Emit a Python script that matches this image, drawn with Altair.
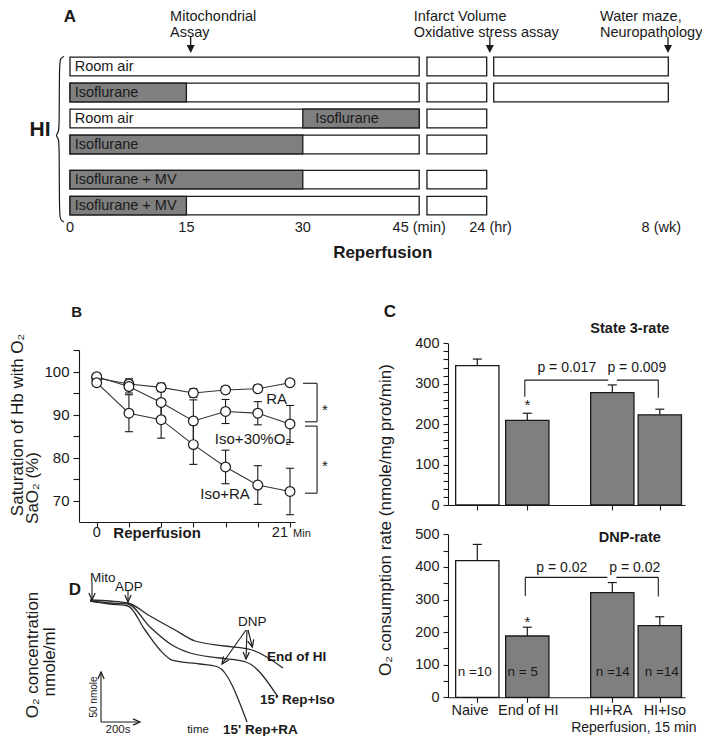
import math
import altair as alt
import pandas as pd

FONT = "Liberation Sans"
INK = "#1a1a1a"
GREY = "#7f7f7f"

# ---------------- Panel A : protocol timeline ----------------
a_rows = [1, 2, 3, 4, 5.35, 6.35]
a_row_labels = ["Room air", "Isoflurane", "Room air", "Isoflurane", "Isoflurane + MV", "Isoflurane + MV"]
a_reperfusion_min = [0, 45]
a_iso_start = [None, 0, 30, 0, 0, 0]
a_iso_end = [None, 15, 45, 30, 30, 15]
a_box_24hr = [46.0, 53.7]
a_box_8wk = [54.6, 77.1]
a_rows_8wk = [1, 2]
a_tick_pos = [0, 15, 30, 45, 54.2, 76.2]
a_tick_labels = ["0", "15", "30", "45 (min)", "24 (hr)", "8 (wk)"]
a_event_x = [15.55, 54.1, 77.06]
a_event_text_x = [12.9, 44.3, 68.3]
a_event_line1 = ["Mitochondrial", "Infarct Volume", "Water maze,"]
a_event_line2 = ["Assay", "Oxidative stress assay", "Neuropathology"]
a_brace_x = [-0.77, -1.22, -1.38, -1.38, -1.48, -1.87, -1.48, -1.38, -1.38, -1.22, -0.77]
a_brace_r = [0.615, 0.673, 0.865, 3.327, 3.538, 3.654, 3.769, 3.981, 6.712, 6.904, 6.981]

# ---------------- Panel B : SaO2 during reperfusion ----------------
b_time = [0, 3.5, 7, 10.5, 14, 17.5, 21]
b_ra = [98.5, 97.1, 96.3, 95.0, 95.7, 96.0, 97.4]
b_ra_err = [0.5, 1.2, 1.0, 1.0, 0.8, 0.8, 0.6]
b_iso30 = [98.8, 96.5, 92.8, 88.5, 90.7, 90.3, 87.8]
b_iso30_err = [0.6, 1.5, 3.7, 4.9, 2.8, 2.7, 4.3]
b_isora = [97.4, 90.3, 88.8, 83.0, 77.8, 73.6, 72.1]
b_isora_err = [0.8, 4.3, 4.3, 4.6, 3.9, 4.5, 5.4]
b_series_labels = ["RA", "Iso+30%O\u2082", "Iso+RA"]
b_series_label_x = [19.55, 16.98, 13.94]
b_series_label_y = [93.5, 84.3, 71.5]
b_yticks = [70, 75, 80, 85, 90, 95, 100, 105]

# ---------------- Panel C : O2 consumption ----------------
c_groups = ["Naive", "End of HI", "HI+RA", "HI+Iso"]
c_pos = [0, 1, 2.7, 3.65]
c_fill = ["white", GREY, GREY, GREY]
c_state3 = [345, 209.5, 278, 223]
c_state3_err = [16, 17.5, 19, 14]
c_dnp = [419, 188, 321, 220]
c_dnp_err = [50, 27, 31, 27]
c_n = ["n =10", "n = 5", "n =14", "n =14"]
c_label_x = [-0.146, 1.02, 2.67, 3.75]
c_n_x = [-0.05, 0.91, 2.71, 3.69]
c1_yticks = list(range(0, 401, 20))
c2_yticks = list(range(0, 501, 50))

# ---------------- Panel D : oxygen electrode traces ----------------
d_t_hi = [10, 110, 200, 310, 435, 535, 685, 820, 975]
d_c_hi = [230, 229, 227, 214, 200, 189, 184, 180, 162]
d_t_iso = [10, 110, 200, 310, 420, 510, 660, 790, 950]
d_c_iso = [229, 227, 226, 203, 185, 177, 172, 168, 133]
d_t_ra = [10, 110, 200, 285, 360, 420, 560, 650, 795]
d_c_ra = [229, 226, 224, 200, 180, 170, 166, 163, 108]


def sc(domain, rng):
    return alt.Scale(domain=domain, range=rng, nice=False, zero=False)


XA = sc([0, 80], [62, 682.8])
YA = sc([0, 10], [32.5, 292.5])
XB = sc([-1.923, 21.543], [71, 287])
YB = sc([65, 105], [514, 342])
XC = sc([-0.586, 4.154], [440, 677])
YC1 = sc([0, 400], [497, 335.3])
YC2 = sc([0, 500], [689.3, 526.3])
XD = sc([0, 3000], [80, 680])
YD = sc([0, 300], [822, 522])

axis_common = dict(domainColor=INK, tickColor=INK, labelColor=INK, domainWidth=1.1, tickWidth=1.1,
                   grid=False, title=None, labelFont=FONT, zindex=2)


def text_layer(df, xs, ys, **kw):
    base = dict(baseline="middle", color=INK)
    base.update(kw)
    return alt.Chart(df).mark_text(**base).encode(
        x=alt.X("x:Q", scale=xs, axis=None),
        y=alt.Y("y:Q", scale=ys, axis=None),
        text="t:N",
    )


def rules(df, xs, ys, width=1.2):
    return alt.Chart(df).mark_rule(color=INK, strokeWidth=width).encode(
        x=alt.X("x:Q", scale=xs, axis=None), x2="x2:Q",
        y=alt.Y("y:Q", scale=ys, axis=None), y2="y2:Q",
    )


def heads(df, xs, ys, shape, size, filled):
    if filled:
        mk = alt.Chart(df).mark_point(shape=shape, size=size, filled=True, color=INK, opacity=1)
    else:
        mk = alt.Chart(df).mark_point(shape=shape, size=size, filled=False, color=INK,
                                      strokeWidth=1.2, opacity=1)
    return mk.encode(
        x=alt.X("x:Q", scale=xs, axis=None),
        y=alt.Y("y:Q", scale=ys, axis=None),
        angle=alt.Angle("ang:Q", scale=None),
    )


layers = []

# ======================= Panel A =======================
seg = []
for r in a_rows:
    seg.append(dict(r=r, x0=a_reperfusion_min[0], x1=a_reperfusion_min[1], fill="white"))
    seg.append(dict(r=r, x0=a_box_24hr[0], x1=a_box_24hr[1], fill="white"))
for r in a_rows_8wk:
    seg.append(dict(r=r, x0=a_box_8wk[0], x1=a_box_8wk[1], fill="white"))
for r, s, e in zip(a_rows, a_iso_start, a_iso_end):
    if s is not None:
        seg.append(dict(r=r, x0=s, x1=e, fill=GREY))
df_seg = pd.DataFrame(seg)
df_seg["r0"] = df_seg["r"] - 0.358
df_seg["r1"] = df_seg["r"] + 0.358

layers.append(alt.Chart(df_seg).mark_rect(stroke=INK, strokeWidth=1.3).encode(
    x=alt.X("x0:Q", scale=XA, axis=None), x2="x1:Q",
    y=alt.Y("r0:Q", scale=YA, axis=None), y2="r1:Q",
    fill=alt.Fill("fill:N", scale=None),
))
df_rowlab = pd.DataFrame(dict(x=[0.6] * len(a_rows) + [31.6], y=a_rows + [3], t=a_row_labels + ["Isoflurane"]))
layers.append(text_layer(df_rowlab, XA, YA, align="left", fontSize=14.5))
df_ticklab = pd.DataFrame(dict(x=a_tick_pos, y=[7.21] * len(a_tick_pos), t=a_tick_labels))
layers.append(text_layer(df_ticklab, XA, YA, align="center", fontSize=14.5))
df_ev = pd.DataFrame(dict(x=a_event_text_x * 2, y=[-0.92] * 3 + [-0.3] * 3, t=a_event_line1 + a_event_line2))
layers.append(text_layer(df_ev, XA, YA, align="left", fontSize=14.5))
df_evrule = pd.DataFrame(dict(x=a_event_x, x2=a_event_x, y=[-0.13] * 3, y2=[0.25] * 3))
layers.append(rules(df_evrule, XA, YA, 1.3))
df_evhead = pd.DataFrame(dict(x=a_event_x, y=[0.48] * 3, ang=[0] * 3))
layers.append(heads(df_evhead, XA, YA, "M-0.5,-1L0.5,-1L0,0Z", 256, True))
df_abold = pd.DataFrame(dict(x=[0, 40.3], y=[-0.92, 8.17], t=["A", "Reperfusion"]))
layers.append(text_layer(df_abold, XA, YA, align="center", fontSize=17, fontWeight="bold"))
df_hi = pd.DataFrame(dict(x=[-3.87], y=[3.44], t=["HI"]))
layers.append(text_layer(df_hi, XA, YA, align="center", fontSize=21, fontWeight="bold"))
df_brace = pd.DataFrame(dict(x=a_brace_x, y=a_brace_r, i=list(range(len(a_brace_x)))))
layers.append(alt.Chart(df_brace).mark_line(color=INK, strokeWidth=1.2, interpolate="basis").encode(
    x=alt.X("x:Q", scale=XA, axis=None), y=alt.Y("y:Q", scale=YA, axis=None), order="i:Q"))

# ======================= Panel B =======================
rows_b = []
for name, vals, errs in [("RA", b_ra, b_ra_err), ("Iso30", b_iso30, b_iso30_err), ("IsoRA", b_isora, b_isora_err)]:
    for t, v, e in zip(b_time, vals, errs):
        rows_b.append(dict(series=name, time=t, val=v, lo=v - e, hi=v + e))
df_b = pd.DataFrame(rows_b)

layers.append(alt.Chart(df_b).mark_rule(color=INK, strokeWidth=1.1).encode(
    x=alt.X("time:Q", scale=XB, axis=None),
    y=alt.Y("lo:Q", scale=YB, axis=None), y2="hi:Q"))
for fld in ["lo", "hi"]:
    layers.append(alt.Chart(df_b).mark_point(shape="M-1,0L1,0", size=64, filled=False, color=INK,
                                             strokeWidth=1.1, opacity=1).encode(
        x=alt.X("time:Q", scale=XB, axis=None), y=alt.Y(fld + ":Q", scale=YB, axis=None)))
layers.append(alt.Chart(df_b).mark_line(color="#333333", strokeWidth=1.1).encode(
    x=alt.X("time:Q", scale=XB,
            axis=alt.Axis(orient="bottom", offset=-214, values=b_time, labels=False, tickSize=5,
                          **axis_common)),
    y=alt.Y("val:Q", scale=YB,
            axis=alt.Axis(orient="left", offset=-71, values=b_yticks,
                          labelExpr="datum.value % 10 === 0 ? datum.label : ''", tickSize=6,
                          labelFontSize=15, labelPadding=4, **axis_common)),
    detail="series:N"))
layers.append(alt.Chart(df_b).mark_point(shape="circle", size=95, filled=True, fill="white", stroke=INK,
                                         strokeWidth=1.2, opacity=1).encode(
    x=alt.X("time:Q", scale=XB, axis=None), y=alt.Y("val:Q", scale=YB, axis=None)))

df_blab = pd.DataFrame(dict(x=b_series_label_x, y=b_series_label_y, t=b_series_labels))
layers.append(text_layer(df_blab, XB, YB, align="center", fontSize=15))
df_bbr = pd.DataFrame(dict(
    x=[22.41, 23.94, 22.63, 22.63, 23.94, 22.63],
    x2=[23.94, 23.94, 23.94, 23.94, 23.94, 23.94],
    y=[97.26, 88.3, 88.3, 87.3, 71.7, 71.7],
    y2=[97.26, 97.26, 88.3, 87.3, 87.3, 71.7]))
layers.append(rules(df_bbr, XB, YB, 1.1))
df_bast = pd.DataFrame(dict(x=[24.8, 24.8], y=[91.0, 78.0], t=["*", "*"]))
layers.append(text_layer(df_bast, XB, YB, align="center", fontSize=15))
df_bax = pd.DataFrame(dict(x=[0, 19.9], y=[62.44, 62.44], t=["0", "21"]))
layers.append(text_layer(df_bax, XB, YB, align="center", fontSize=14.5))
df_bmin = pd.DataFrame(dict(x=[22.3], y=[62.2], t=["Min"]))
layers.append(text_layer(df_bmin, XB, YB, align="center", fontSize=11))
df_bbold = pd.DataFrame(dict(x=[6.56, -2.17], y=[62.44, 113.9], t=["Reperfusion", "B"]))
layers.append(text_layer(df_bbold, XB, YB, align="center", fontSize=15, fontWeight="bold"))
df_btitle = pd.DataFrame(dict(x=[-8.6, -6.9], y=[87.56, 72.9],
                              t=["Saturation of Hb with O\u2082", "SaO\u2082 (%)"]))
layers.append(text_layer(df_btitle, XB, YB, align="center", fontSize=17, angle=270))


# ======================= Panel C =======================
def bar_panel(values, errs, ys, x_offset, y_values, bracket, ptext, ptext_x, ptext_y, head,
              head_y, star_y):
    df = pd.DataFrame(dict(g=c_groups, pos=c_pos, fill=c_fill, v=values, e=errs))
    df["x0"] = df["pos"] - 0.433
    df["x1"] = df["pos"] + 0.433
    df["top"] = df["v"] + df["e"]
    df["zero"] = 0
    out = []
    out.append(alt.Chart(df).mark_rect(stroke=INK, strokeWidth=1.3).encode(
        x=alt.X("x0:Q", scale=XC,
                axis=alt.Axis(orient="bottom", offset=x_offset, values=c_pos, labels=False,
                              tickSize=5, **axis_common)),
        x2="x1:Q",
        y=alt.Y("zero:Q", scale=ys,
                axis=alt.Axis(orient="left", offset=-440, values=y_values,
                              labelExpr="datum.value % 100 === 0 ? datum.label : ''",
                              tickSize=5, labelFontSize=14.5, labelPadding=4, **axis_common)),
        y2="v:Q",
        fill=alt.Fill("fill:N", scale=None)))
    out.append(alt.Chart(df).mark_rule(color=INK, strokeWidth=1.2).encode(
        x=alt.X("pos:Q", scale=XC, axis=None),
        y=alt.Y("v:Q", scale=ys, axis=None), y2="top:Q"))
    out.append(alt.Chart(df).mark_point(shape="M-1,0L1,0", size=81, filled=False, color=INK,
                                        strokeWidth=1.2, opacity=1).encode(
        x=alt.X("pos:Q", scale=XC, axis=None), y=alt.Y("top:Q", scale=ys, axis=None)))
    out.append(rules(bracket, XC, ys, 1.1))
    out.append(text_layer(pd.DataFrame(dict(x=ptext_x, y=[ptext_y, ptext_y], t=ptext)), XC, ys,
                          align="center", fontSize=14))
    out.append(text_layer(pd.DataFrame(dict(x=[3.05], y=[head_y], t=[head])), XC, ys, align="center",
                          fontSize=14.5, fontWeight="bold"))
    out.append(text_layer(pd.DataFrame(dict(x=[1], y=[star_y], t=["*"])), XC, ys, align="center",
                          fontSize=15))
    return out


c1_bracket = pd.DataFrame(dict(x=[0.95, 0.95, 2.79, 3.62], x2=[0.95, 2.62, 3.62, 3.62],
                               y=[268, 309, 309, 265], y2=[309, 309, 309, 309]))
c2_bracket = pd.DataFrame(dict(x=[0.96, 0.96, 2.78, 3.62], x2=[0.96, 2.6, 3.62, 3.62],
                               y=[311, 368, 368, 309], y2=[368, 368, 368, 368]))

layers += bar_panel(c_state3, c_state3_err, YC1, -231, c1_yticks, c1_bracket,
                    ["p = 0.017", "p = 0.009"], [1.79, 3.19], 338, "State 3-rate", 435, 247)
layers += bar_panel(c_dnp, c_dnp_err, YC2, -38.7, c2_yticks, c2_bracket,
                    ["p = 0.02", "p = 0.02"], [1.69, 3.15], 396, "DNP-rate", 488, 231.6)

df_cn = pd.DataFrame(dict(x=c_n_x, y=[78] * 4, t=c_n))
layers.append(text_layer(df_cn, XC, YC2, align="center", fontSize=13.5))
df_cx = pd.DataFrame(dict(x=c_label_x, y=[-41.1] * 4, t=c_groups))
layers.append(text_layer(df_cx, XC, YC2, align="center", fontSize=14.5))
df_crep = pd.DataFrame(dict(x=[3.13], y=[-95], t=["Reperfusion, 15 min"]))
layers.append(text_layer(df_crep, XC, YC2, align="center", fontSize=14))
df_cC = pd.DataFrame(dict(x=[-1.746], y=[478.1], t=["C"]))
layers.append(text_layer(df_cC, XC, YC1, align="center", fontSize=17, fontWeight="bold"))
df_ctitle = pd.DataFrame(dict(x=[-1.826], y=[-37.1], t=["O\u2082 consumption rate (nmole/mg prot/min)"]))
layers.append(text_layer(df_ctitle, XC, YC1, align="center", fontSize=17, angle=270))

# ======================= Panel D =======================
rows_d = []
for name, ts, cs in [("End of HI", d_t_hi, d_c_hi), ("15' Rep+Iso", d_t_iso, d_c_iso),
                     ("15' Rep+RA", d_t_ra, d_c_ra)]:
    for t, c in zip(ts, cs):
        rows_d.append(dict(series=name, x=t, y=c))
df_d = pd.DataFrame(rows_d)
layers.append(alt.Chart(df_d).mark_line(color="#2a2a2a", strokeWidth=1.3, interpolate="monotone").encode(
    x=alt.X("x:Q", scale=XD, axis=None), y=alt.Y("y:Q", scale=YD, axis=None), detail="series:N"))

# arrows: (start t, start c, tip t, tip c)
d_arrows = [(20, 248, 20, 230), (200, 239, 200, 228),
            (790, 200, 670, 166), (795, 200, 790, 171), (800, 200, 822, 183),
            (65, 108, 65, 158), (65, 108, 260, 108)]
PX_T, PX_C = 0.2, 1.0
arr = []
for t0, c0, t1, c1 in d_arrows:
    dx = (t1 - t0) * PX_T
    dy = -(c1 - c0) * PX_C
    ang = math.degrees(math.atan2(-dx, dy)) % 360
    arr.append(dict(x=t0, x2=t1, y=c0, y2=c1, ang=ang))
df_arr = pd.DataFrame(arr)
layers.append(rules(df_arr, XD, YD, 1.1))
layers.append(heads(df_arr.assign(x=df_arr["x2"], y=df_arr["y2"]), XD, YD, "M-0.45,-1L0,0L0.45,-1", 196,
                    False))

df_dtxt = pd.DataFrame(dict(x=[10, 135, 750], y=[252, 243, 208], t=["Mito", "ADP", "DNP"]))
layers.append(text_layer(df_dtxt, XD, YD, align="left", fontSize=13.5))
df_dsmall = pd.DataFrame(dict(x=[150, 550], y=[100, 100], t=["200s", "time"]))
layers.append(text_layer(df_dsmall, XD, YD, align="center", fontSize=11.5))
df_dnm = pd.DataFrame(dict(x=[30], y=[133], t=["50 nmole"]))
layers.append(text_layer(df_dnm, XD, YD, align="center", fontSize=10, angle=270))
df_dbold = pd.DataFrame(dict(x=[895, 860, 675], y=[173, 130, 100],
                             t=["End of HI", "15' Rep+Iso", "15' Rep+RA"]))
layers.append(text_layer(df_dbold, XD, YD, align="left", fontSize=13.5, fontWeight="bold"))
df_dD = pd.DataFrame(dict(x=[-65], y=[240], t=["D"]))
layers.append(text_layer(df_dD, XD, YD, align="center", fontSize=17, fontWeight="bold"))
df_dtitle = pd.DataFrame(dict(x=[-275, -190], y=[175, 168], t=["O\u2082 concentration", "nmole/ml"]))
layers.append(text_layer(df_dtitle, XD, YD, align="center", fontSize=17, angle=270))

# ======================= assemble =======================
chart = alt.layer(*layers).resolve_scale(
    x="independent", y="independent"
).properties(
    width=694, height=728, padding=0, background="white",
    autosize=alt.AutoSizeParams(type="none"),
).configure(font=FONT).configure_view(stroke=None)

chart.save("out.html", embed_options={"renderer": "svg", "actions": False})
